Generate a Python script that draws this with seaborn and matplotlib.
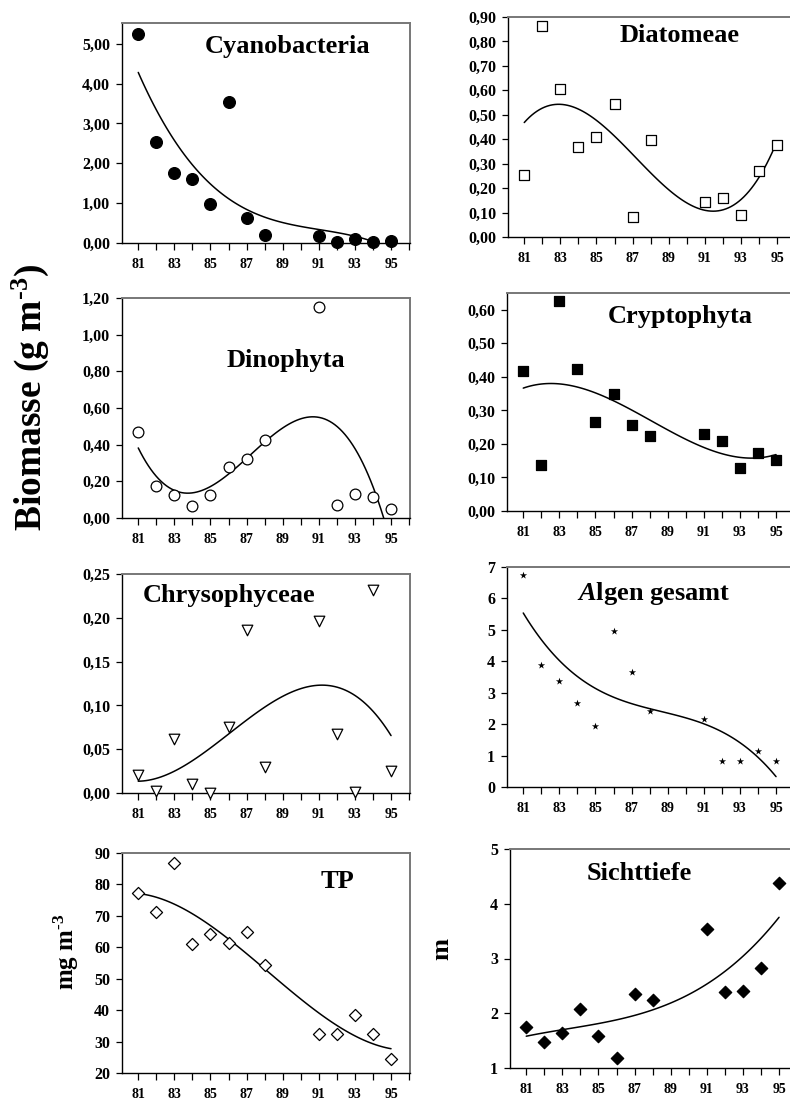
import matplotlib
matplotlib.use("Agg")
import matplotlib.pyplot as plt
import seaborn as sns

# ---------------- data ----------------
years = [81, 82, 83, 84, 85, 86, 87, 88, 91, 92, 93, 94, 95]

cyanobacteria = [5.25, 2.53, 1.76, 1.61, 0.99, 3.54, 0.62, 0.21, 0.18, 0.03, 0.10, 0.03, 0.05]
diatomeae = [0.255, 0.862, 0.607, 0.367, 0.409, 0.545, 0.082, 0.398, 0.142, 0.158, 0.091, 0.269, 0.376]
dinophyta = [0.471, 0.174, 0.124, 0.068, 0.128, 0.278, 0.323, 0.424, 1.149, 0.073, 0.133, 0.113, 0.049]
cryptophyta = [0.416, 0.138, 0.626, 0.424, 0.265, 0.350, 0.257, 0.225, 0.229, 0.210, 0.129, 0.174, 0.151]
chrysophyceae = [0.020, 0.002, 0.062, 0.010, 0.000, 0.075, 0.186, 0.030, 0.196, 0.067, 0.001, 0.232, 0.025]
algen_gesamt = [6.73, 3.87, 3.36, 2.66, 1.94, 4.97, 3.66, 2.41, 2.16, 0.82, 0.82, 1.14, 0.82]
tp = [77.4, 71.1, 86.7, 61.2, 64.1, 61.5, 65.0, 54.3, 32.3, 32.3, 38.4, 32.3, 24.5]
sichttiefe = [1.75, 1.47, 1.64, 2.08, 1.59, 1.19, 2.35, 2.24, 3.53, 2.39, 2.41, 2.83, 4.38]

x_ticks = list(range(81, 97))
x_ticklabels = ["81", "", "83", "", "85", "", "87", "", "89", "", "91", "", "93", "", "95", ""]

titles = ["Cyanobacteria", "Diatomeae", "Dinophyta", "Cryptophyta",
          "Chrysophyceae", r"$\mathit{A}$lgen gesamt", "TP", "Sichttiefe"]

y_ticks_cyano = [0, 1, 2, 3, 4, 5]
y_labels_cyano = ["0,00", "1,00", "2,00", "3,00", "4,00", "5,00"]
y_ticks_diat = [0.0, 0.1, 0.2, 0.3, 0.4, 0.5, 0.6, 0.7, 0.8, 0.9]
y_labels_diat = ["0,00", "0,10", "0,20", "0,30", "0,40", "0,50", "0,60", "0,70", "0,80", "0,90"]
y_ticks_dino = [0.0, 0.2, 0.4, 0.6, 0.8, 1.0, 1.2]
y_labels_dino = ["0,00", "0,20", "0,40", "0,60", "0,80", "1,00", "1,20"]
y_ticks_crypto = [0.0, 0.1, 0.2, 0.3, 0.4, 0.5, 0.6]
y_labels_crypto = ["0,00", "0,10", "0,20", "0,30", "0,40", "0,50", "0,60"]
y_ticks_chryso = [0.0, 0.05, 0.10, 0.15, 0.20, 0.25]
y_labels_chryso = ["0,00", "0,05", "0,10", "0,15", "0,20", "0,25"]
y_ticks_algen = [0, 1, 2, 3, 4, 5, 6, 7]
y_labels_algen = ["0", "1", "2", "3", "4", "5", "6", "7"]
y_ticks_tp = [20, 30, 40, 50, 60, 70, 80, 90]
y_labels_tp = ["20", "30", "40", "50", "60", "70", "80", "90"]
y_ticks_sicht = [1, 2, 3, 4, 5]
y_labels_sicht = ["1", "2", "3", "4", "5"]

# ---------------- style ----------------
sns.set_theme(style="white")
plt.rcParams["font.family"] = ["Liberation Serif", "DejaVu Serif"]
plt.rcParams["font.weight"] = "bold"
plt.rcParams["text.color"] = "black"
plt.rcParams["axes.labelcolor"] = "black"
plt.rcParams["xtick.color"] = "black"
plt.rcParams["ytick.color"] = "black"
plt.rcParams["mathtext.fontset"] = "custom"
plt.rcParams["mathtext.rm"] = "Liberation Serif:bold"
plt.rcParams["mathtext.bf"] = "Liberation Serif:bold"
plt.rcParams["mathtext.it"] = "Liberation Serif:italic:bold"
plt.rcParams["mathtext.default"] = "bf"

W, H = 790, 1102
fig = plt.figure(figsize=(W / 100, H / 100), dpi=100)

# panel: (data, yticks, ylabels, ylim, rect px (left, top, bottom), marker, size, face, title pos)
panels = [
    (cyanobacteria, y_ticks_cyano, y_labels_cyano, (0, 5.52), (122, 23, 243), "o", 72, "black", (0.576, 0.895)),
    (diatomeae, y_ticks_diat, y_labels_diat, (0, 0.9), (508, 17, 237), "s", 48, "white", (0.597, 0.918)),
    (dinophyta, y_ticks_dino, y_labels_dino, (0, 1.2), (122, 298, 518), "o", 60, "white", (0.569, 0.715)),
    (cryptophyta, y_ticks_crypto, y_labels_crypto, (0, 0.65), (507, 293, 511), "s", 52, "black", (0.60, 0.891)),
    (chrysophyceae, y_ticks_chryso, y_labels_chryso, (0, 0.25), (122, 574, 793), "v", 58, "white", (0.371, 0.904)),
    (algen_gesamt, y_ticks_algen, y_labels_algen, (0, 7), (507, 567, 787), "*", 30, "black", (0.51, 0.88)),
    (tp, y_ticks_tp, y_labels_tp, (20, 90), (122, 853, 1073), "D", 38, "white", (0.747, 0.87)),
    (sichttiefe, y_ticks_sicht, y_labels_sicht, (1, 5), (510, 849, 1068), "D", 40, "black", (0.45, 0.89)),
]

AX_W = 288
for (vals, yt, yl, ylim, (lpx, tpx, bpx), mk, ms, face, tpos), title in zip(panels, titles):
    ax = fig.add_axes([lpx / W, (H - bpx) / H, AX_W / W, (bpx - tpx) / H])
    sns.regplot(x=years, y=vals, order=3, ci=None, scatter=False, truncate=True,
                line_kws=dict(color="black", lw=1.1), ax=ax)
    sns.scatterplot(x=years, y=vals, marker=mk, s=ms, color=face,
                    edgecolor="black", linewidth=0.0 if mk == "*" else 0.9,
                    clip_on=False, zorder=4, legend=False, ax=ax)
    ax.set_xlim(80.1, 96.05)
    ax.set_ylim(*ylim)
    ax.set_xticks(x_ticks)
    ax.set_xticklabels(x_ticklabels)
    ax.set_yticks(yt)
    ax.set_yticklabels(yl)
    ax.set_xlabel("")
    ax.set_ylabel("")
    ax.tick_params(axis="x", direction="out", length=5, width=0.9, pad=6,
                   labelsize=10, colors="black", bottom=True)
    ax.tick_params(axis="y", direction="out", length=4.5, width=0.9, pad=4,
                   labelsize=11.5, colors="black", left=True)
    for lab in ax.get_xticklabels() + ax.get_yticklabels():
        lab.set_fontweight("bold")
        lab.set_color("black")
    for s in ("left", "bottom"):
        ax.spines[s].set_color("black")
        ax.spines[s].set_linewidth(1.0)
    for s in ("top", "right"):
        ax.spines[s].set_color("#777777")
        ax.spines[s].set_linewidth(1.4)
    ax.text(tpos[0], tpos[1], title, transform=ax.transAxes, ha="center", va="center",
            fontsize=19, fontweight="bold", color="black")

fig.text(30 / W, 1 - 397 / H, r"Biomasse (g m$^{\text{-3}}$)", rotation=90,
         ha="center", va="center", fontsize=27, fontweight="bold", color="black")
fig.text(66 / W, 1 - 952 / H, r"mg m$^{\text{-3}}$", rotation=90,
         ha="center", va="center", fontsize=18, fontweight="bold", color="black")
fig.text(442 / W, 1 - 949 / H, "m", rotation=90,
         ha="center", va="center", fontsize=19, fontweight="bold", color="black")

fig.savefig("out.png", dpi=100)
